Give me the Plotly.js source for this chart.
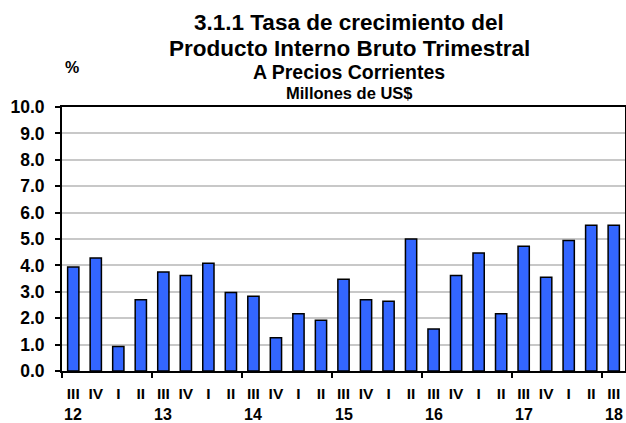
<!DOCTYPE html>
<html>
<head>
<meta charset="utf-8">
<script src="https://cdn.plot.ly/plotly-3.0.1.min.js"></script>
<style>html,body{margin:0;padding:0;background:#fff;}#chart{width:626px;height:423px;}</style>
</head>
<body>
<div id="chart"></div>
<script>
// Quarter labels, year labels (shown under the first quarter of each group), growth values (%)
var quarters = ["III","IV","I","II","III","IV","I","II","III","IV","I","II","III","IV","I","II","III","IV","I","II","III","IV","I","II","III"];
var years    = ["12","","","","13","","","","14","","","","15","","","","16","","","","17","","","","18"];
var values   = [3.94,4.28,0.93,2.70,3.75,3.62,4.08,2.97,2.83,1.26,2.17,1.92,3.48,2.70,2.64,5.00,1.59,3.62,4.47,2.17,4.73,3.55,4.94,5.52,5.52];
var titleLines = ["3.1.1 Tasa de crecimiento del","Producto Interno Bruto Trimestral","A Precios Corrientes","Millones de US$"];
var yUnit = "%";

var idx = quarters.map(function(_, i){ return i; });
var separators = [];
for (var i = 0; i < quarters.length; i++) {
  if (i > 0 && quarters[i] === "III") separators.push(i - 0.5);
}

var font = "Liberation Sans, Arial, sans-serif";

var trace = {
  type: 'bar',
  x: idx,
  y: values,
  width: 0.5,
  marker: {color: '#3366FF', line: {color: '#000000', width: 1.5}},
  hoverinfo: 'y'
};

var sizes = [22.5, 22.5, 19.5, 16.5];
var ys = [22, 48, 72, 93];
var annotations = titleLines.map(function(t, i){
  return {text: '<b>' + t + '</b>', xref: 'paper', yref: 'paper', x: 0.51, y: 1,
    yshift: 107 - ys[i], xanchor: 'center', yanchor: 'middle', showarrow: false,
    borderpad: 0,
    font: {family: font, size: sizes[i], color: '#000'}};
});
annotations.push({text: '<b>' + yUnit + '</b>', xref: 'paper', yref: 'paper', x: 0, y: 1,
  xshift: 10, yshift: 107 - 67, xanchor: 'center', yanchor: 'middle', showarrow: false,
  font: {family: font, size: 16, color: '#000'}});
years.forEach(function(yr, i){
  if (!yr) return;
  annotations.push({text: '<b>' + yr + '</b>', xref: 'x', yref: 'paper', x: i, y: 0,
    yshift: -(414 - 371), xanchor: 'center', yanchor: 'middle', showarrow: false,
    borderpad: 0,
    font: {family: font, size: 16, color: '#000'}});
});

var layout = {
  width: 626, height: 423,
  margin: {l: 62, r: 1, t: 107, b: 52, pad: 0},
  paper_bgcolor: '#fff', plot_bgcolor: '#fff',
  showlegend: false,
  font: {family: font, color: '#000'},
  xaxis: {
    range: [-0.5, quarters.length - 0.5],
    tickmode: 'array', tickvals: idx, ticktext: quarters,
    ticks: 'outside', ticklen: 7, tickcolor: 'rgba(0,0,0,0)',
    tickfont: {family: font, size: 15.5, color: '#000', weight: 'bold'},
    showgrid: false, zeroline: false,
    showline: true, linecolor: '#000', linewidth: 2, mirror: true,
    minor: {tickmode: 'array', tickvals: [-0.5].concat(separators), ticks: 'outside', ticklen: 5, tickwidth: 2, tickcolor: '#000', showgrid: false}
  },
  yaxis: {
    range: [0, 10], dtick: 1, tick0: 0, tickformat: '.1f',
    ticks: 'outside', ticklen: 5, tickwidth: 2, tickcolor: '#000',
    ticklabelstandoff: 7,
    tickfont: {family: font, size: 17.5, color: '#000', weight: 'bold'},
    showgrid: true, gridcolor: '#c8c8c8', gridwidth: 2,
    zeroline: false,
    showline: true, linecolor: '#000', linewidth: 2, mirror: true
  },
  annotations: annotations
};

Plotly.newPlot('chart', [trace], layout, {displayModeBar: false, staticPlot: true});
</script>
</body>
</html>
